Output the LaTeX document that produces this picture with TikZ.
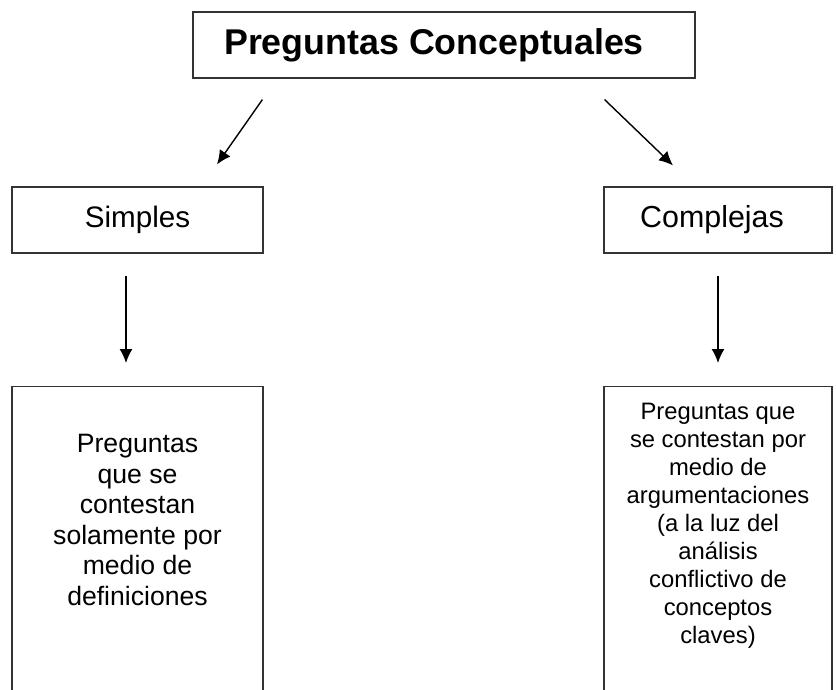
\documentclass[tikz,border=0pt]{standalone}
\usepackage{fontspec}
\setmainfont{Liberation Sans}
\usetikzlibrary{arrows.meta}
\tikzset{
  caja/.style={draw=black!80,line width=0.6pt,inner sep=0pt,minimum height=33pt},
  flecha/.style={-{Latex[length=7pt,width=6.5pt]},line width=0.7pt}
}
\begin{document}
\begin{tikzpicture}[x=0.5pt,y=-0.5pt]
\useasboundingbox (0,0) rectangle (836,690);
\clip (0,0) rectangle (836,690);
% boxes
\node[caja,minimum width=251pt,font=\fontsize{17.9pt}{20pt}\selectfont\bfseries] (titulo) at (444,45) {Preguntas Conceptuales\hspace*{10pt}};
\node[caja,minimum width=125.5pt,font=\fontsize{14.8pt}{17pt}\selectfont] (simples) at (137.5,220) {Simples};
\node[caja,minimum width=114pt,font=\fontsize{15.2pt}{17pt}\selectfont] (complejas) at (718,220) {Complejas\hspace*{6pt}};
\node[caja,minimum width=125.5pt,minimum height=170pt,anchor=north] (simdef) at (137.5,386) {};
\node[caja,minimum width=114pt,minimum height=170pt,anchor=north] (comdef) at (718,386) {};
% texts
\node[anchor=north,inner sep=0pt,align=center,font=\fontsize{13.3pt}{15.25pt}\selectfont] (simtxt) at (137.5,434)
  {Preguntas\\que se\\contestan\\solamente por\\medio de\\definiciones};
\node[anchor=north,inner sep=0pt,align=center,font=\fontsize{11.9pt}{14pt}\selectfont] (comtxt) at (718,403)
  {Preguntas que\\se contestan por\\medio de\\argumentaciones\\(a la luz del\\análisis\\conflictivo de\\conceptos\\claves)};
% arrows
\draw[flecha] ([xshift=35pt,yshift=-10.5pt]titulo.south west) -- ([xshift=39.75pt,yshift=11pt]simples.north);
\draw[flecha] ([xshift=-45.5pt,yshift=-10.5pt]titulo.south east) -- ([xshift=-22.5pt,yshift=10.5pt]complejas.north);
\draw[flecha] ([xshift=-5.75pt,yshift=-11pt]simples.south) -- ([xshift=-5.75pt,yshift=11.5pt]simdef.north);
\draw[flecha] ([yshift=-11pt]complejas.south) -- ([yshift=11.5pt]comdef.north);
\end{tikzpicture}
\end{document}
